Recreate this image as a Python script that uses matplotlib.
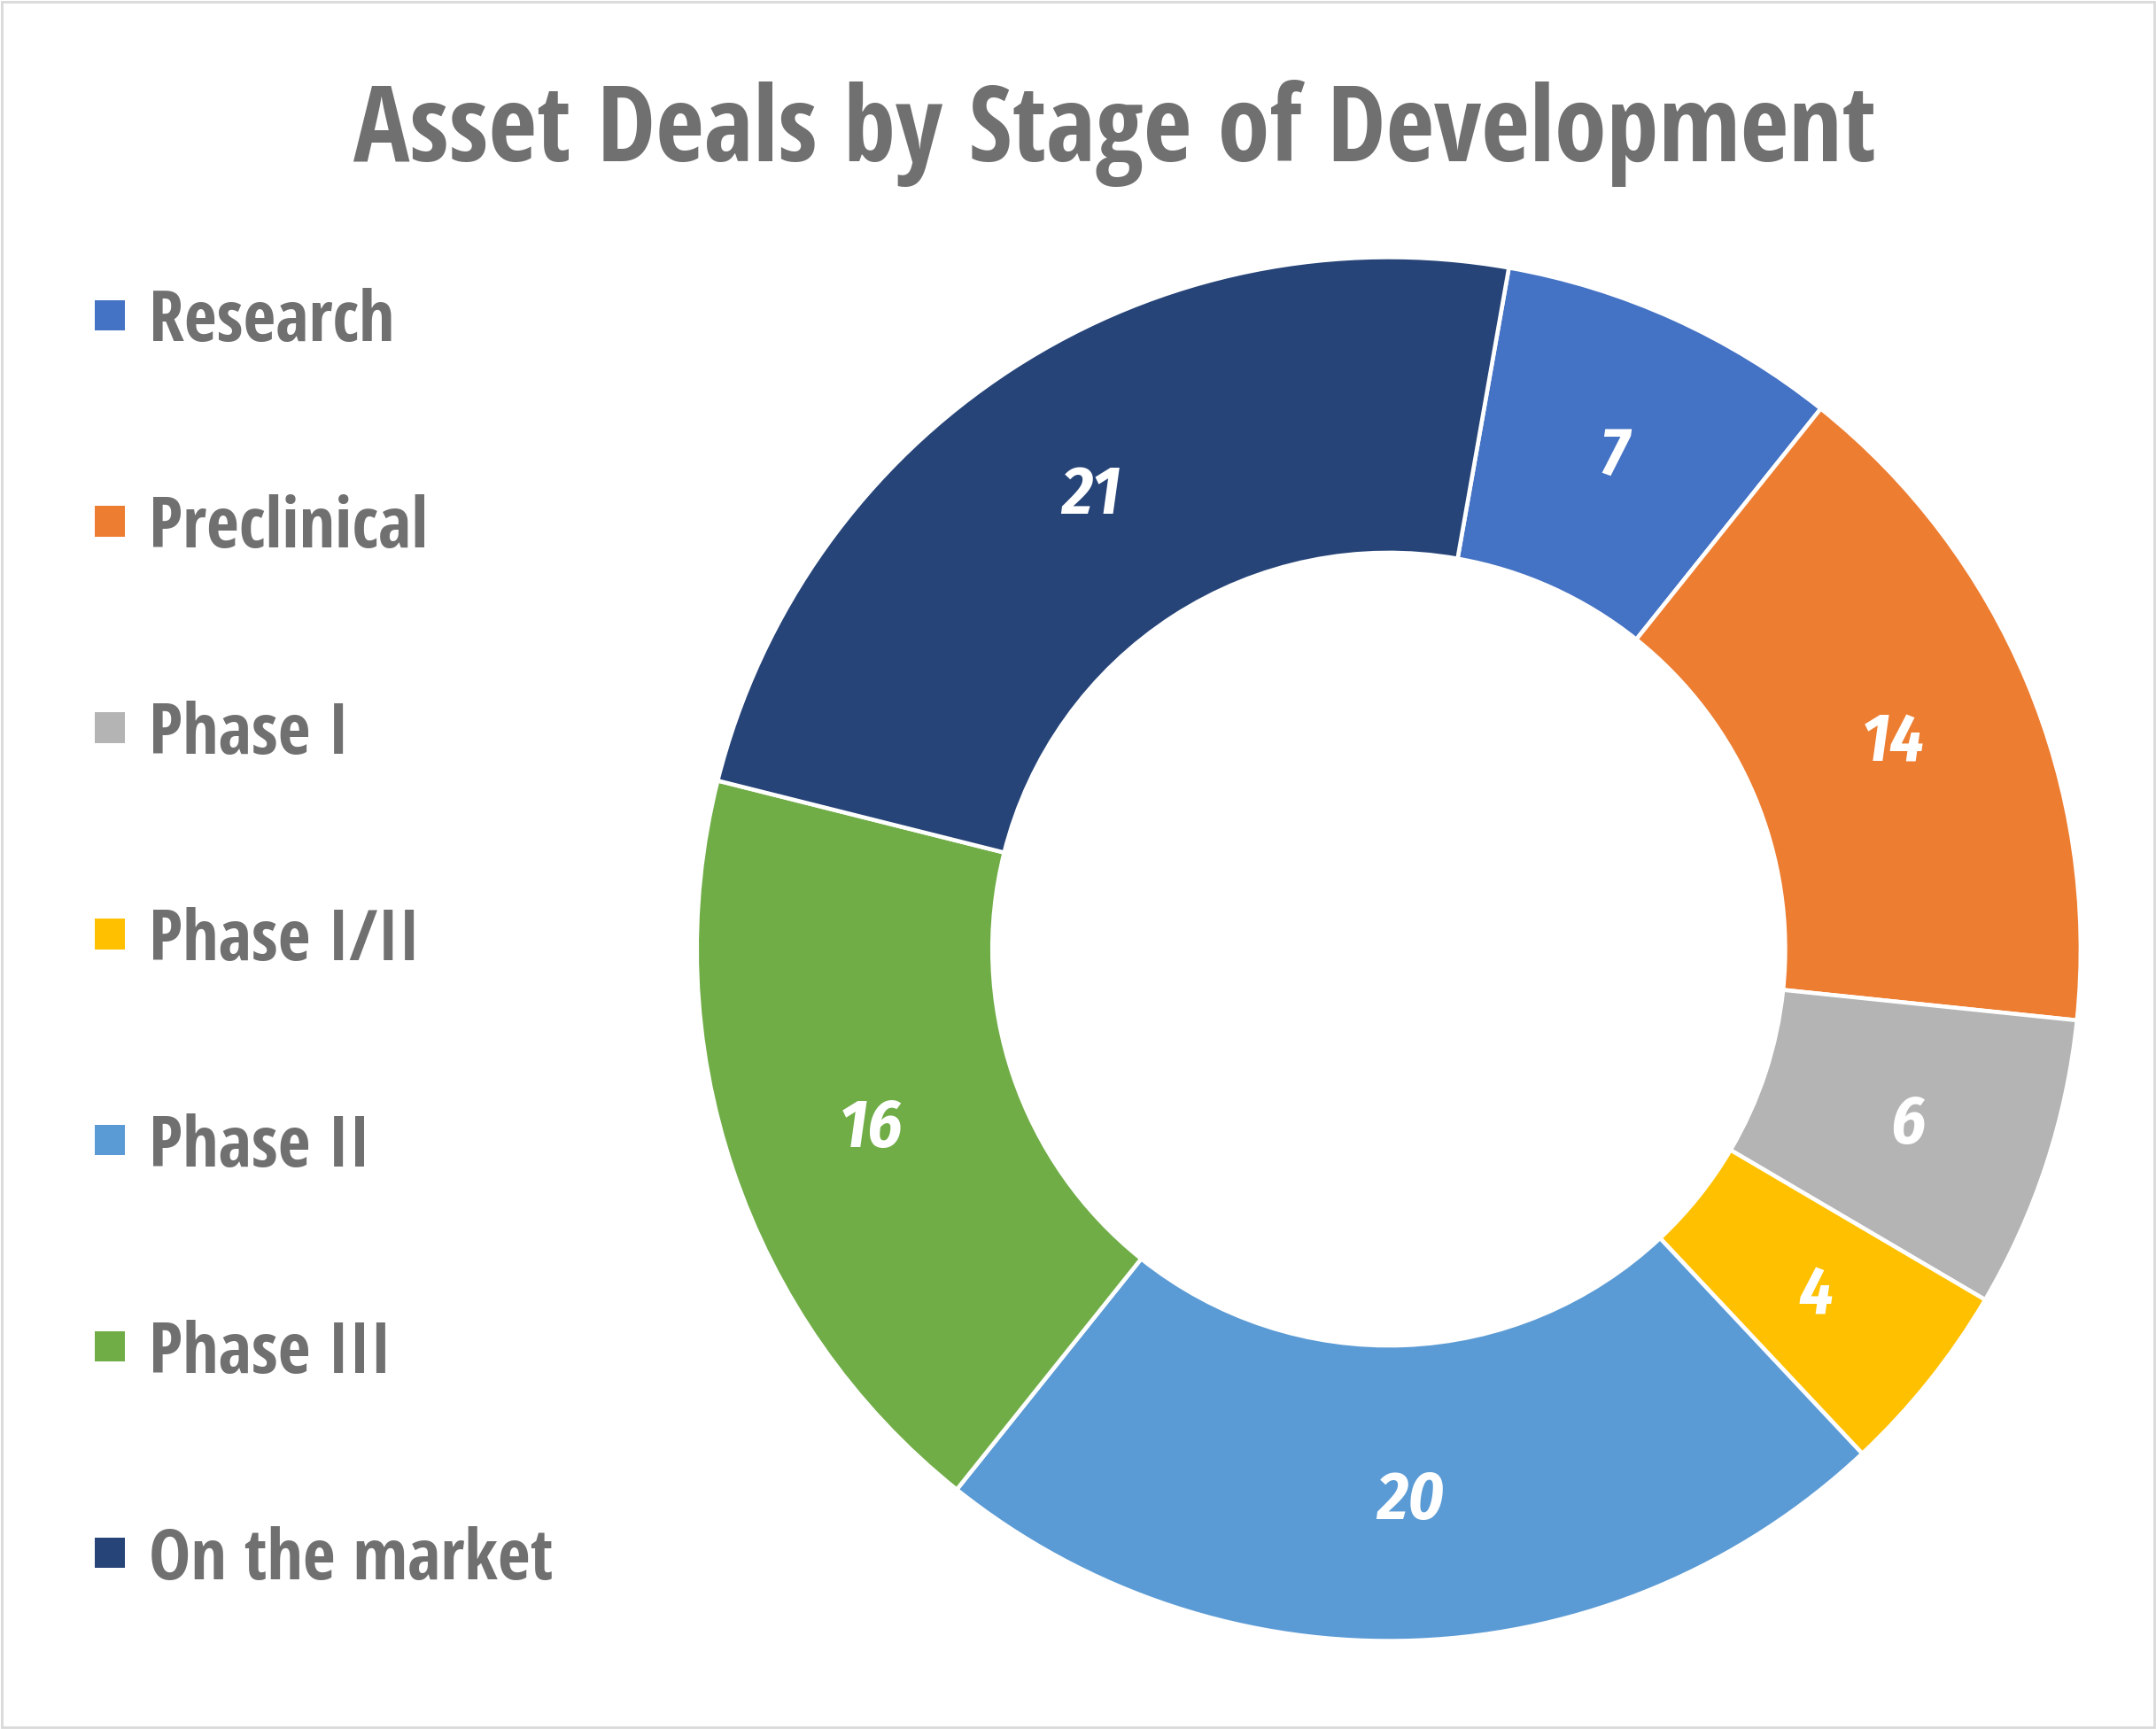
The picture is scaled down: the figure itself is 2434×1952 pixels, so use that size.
import matplotlib
matplotlib.use("Agg")
import matplotlib.pyplot as plt
from matplotlib.patches import Rectangle
import numpy as np

plt.rcParams['font.family'] = ['Open Sans Condensed', 'DejaVu Sans']

# data
stages = ['Research', 'Preclinical', 'Phase I', 'Phase I/II', 'Phase II', 'Phase III', 'On the market']
deals = [7, 14, 6, 4, 20, 16, 21]
colors = ['#4472C4', '#ED7D31', '#B4B4B4', '#FFC000', '#5B9BD5', '#70AD47', '#264478']

W, H = 2434, 1952
sx, sy = W / 1568, H / 1257   # reference screenshot -> output pixels
fig = plt.figure(figsize=(W / 100, H / 100), dpi=100)
renderer = fig.canvas.get_renderer()


def fit_width(t, target_px):
    # rescale font so the text spans target_px horizontally
    w = t.get_window_extent(renderer).width
    t.set_fontsize(t.get_fontsize() * target_px / w)


# donut axes
cx, cy = 1010 / 1568, 1 - 690 / 1257
side = 2 * 503 * sy
ax = fig.add_axes([cx - side / 2 / W, cy - side / 2 / H, side / W, side / H])
ax.set_aspect('equal')

ax.pie(deals, colors=colors, startangle=80, counterclock=False, radius=1.0,
       wedgeprops=dict(width=0.427, edgecolor='white', linewidth=3.3))
ax.set_xlim(-1, 1)
ax.set_ylim(-1, 1)

total = sum(deals)
ang = 80.0
for v in deals:
    mid = ang - v / total * 360 / 2
    ang -= v / total * 360
    rr = 0.79
    ax.text(rr * np.cos(np.radians(mid)), rr * np.sin(np.radians(mid)) - 0.008, str(v),
            ha='center', va='center', color='white', fontsize=55,
            fontweight='bold', fontstyle='italic', family='Fira Sans Condensed')

t = fig.text(811 / 1568, 1 - 117 / 1257, 'Asset Deals by Stage of Development', ha='center', va='baseline',
             fontsize=80, fontweight='bold', color='#707070')
fit_width(t, 1107 * sx)

# legend drawn manually
for i, (s, c) in enumerate(zip(stages, colors)):
    y = 1 - (229 + 150 * i) / 1257
    fig.patches.append(Rectangle((69 / 1568, y - 11 / 1257), 22 / 1568, 22 / 1257,
                                 transform=fig.transFigure, facecolor=c, edgecolor='none'))
    t = fig.text(108 / 1568, 1 - (248 + 150 * i) / 1257, s, ha='left', va='baseline', fontsize=60,
                 fontweight='bold', color='#707070')
    if s == 'On the market':
        fit_width(t, 294 * sx)
        legend_size = t.get_fontsize()
for t in fig.texts[1:]:
    t.set_fontsize(legend_size)

fig.patches.append(Rectangle((0.001, 0.001), 0.998, 0.998, transform=fig.transFigure,
                             facecolor='none', edgecolor='#D9D9D9', linewidth=2))

fig.savefig('out.png', dpi=100)
